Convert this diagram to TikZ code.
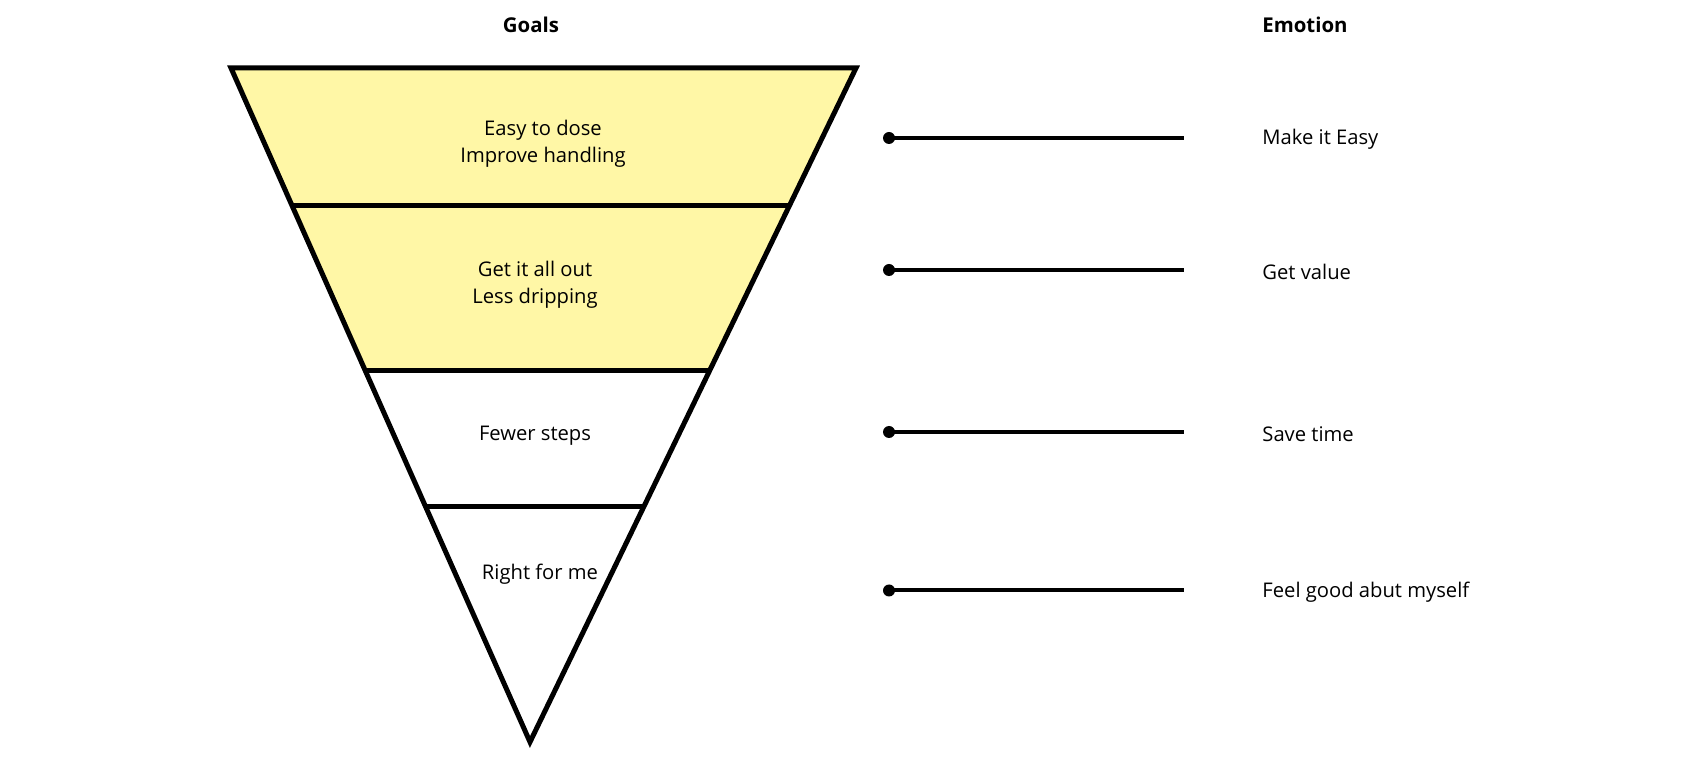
\documentclass[tikz,border=0pt]{standalone}
\usepackage{fontspec}
\setmainfont{Open Sans}
\usetikzlibrary{positioning}
\definecolor{tierfill}{RGB}{255,247,166}

\begin{document}
\begin{tikzpicture}[x=0.5pt, y=-0.5pt,
  edge/.style={draw=black, line width=2.5pt, line join=miter},
  goal/.style={align=center, inner sep=0pt, font=\fontsize{10.1}{13.5}\selectfont},
  feel/.style={anchor=west, inner sep=0pt, font=\fontsize{10.1}{13.5}\selectfont},
  head/.style={inner sep=0pt, font=\fontsize{10.2}{12}\selectfont\bfseries},
  dot/.style={circle, fill=black, inner sep=0pt, minimum size=6pt},
  link/.style={line width=2pt}
]
  \useasboundingbox (0,0) rectangle (1698,758);

  % funnel corners
  \coordinate (t0l) at (231,68);  \coordinate (t0r) at (856,68);
  \coordinate (t1l) at (292,206); \coordinate (t1r) at (789,206);
  \coordinate (t2l) at (365,371); \coordinate (t2r) at (709,371);
  \coordinate (t3l) at (426,507); \coordinate (t3r) at (644,507);
  \coordinate (apex) at (530,742);

  \fill[tierfill] (t0l) -- (t0r) -- (t2r) -- (t2l) -- cycle;
  \draw[edge] (t0l) -- (t0r) -- (apex) -- cycle;
  \draw[edge] (t1l) -- (t1r);
  \draw[edge] (t2l) -- (t2r);
  \draw[edge] (t3l) -- (t3r);

  % headers
  \node[head] (goals) at (531,25) {Goals};
  \node[head, anchor=west] (emotion) at (1262,25) {Emotion};

  % goals
  \node[goal] (g1) at (543,144) {Easy to dose\\Improve handling};
  \node[goal] (g2) at (535,285) {Get it all out\\Less dripping};
  \node[goal] (g3) at (535,435.5) {Fewer steps};
  \node[goal] (g4) at (540,574.5) {Right for me};

  % emotions
  \node[dot] (d1) at (889,138) {};
  \node[dot] (d2) at (889,270) {};
  \node[dot] (d3) at (889,432) {};
  \node[dot] (d4) at (889,590.5) {};
  \coordinate (e1) at (1184,138);
  \coordinate (e2) at (1184,270);
  \coordinate (e3) at (1184,432);
  \coordinate (e4) at (1184,590.5);
  \draw[link] (d1.center) -- (e1);
  \draw[link] (d2.center) -- (e2);
  \draw[link] (d3.center) -- (e3);
  \draw[link] (d4.center) -- (e4);

  \node[feel] (m1) at (1262,139.5) {Make it Easy};
  \node[feel] (m2) at (1262,272) {Get value};
  \node[feel] (m3) at (1262,434) {Save time};
  \node[feel] (m4) at (1262,592.5) {Feel good abut myself};
\end{tikzpicture}
\end{document}
